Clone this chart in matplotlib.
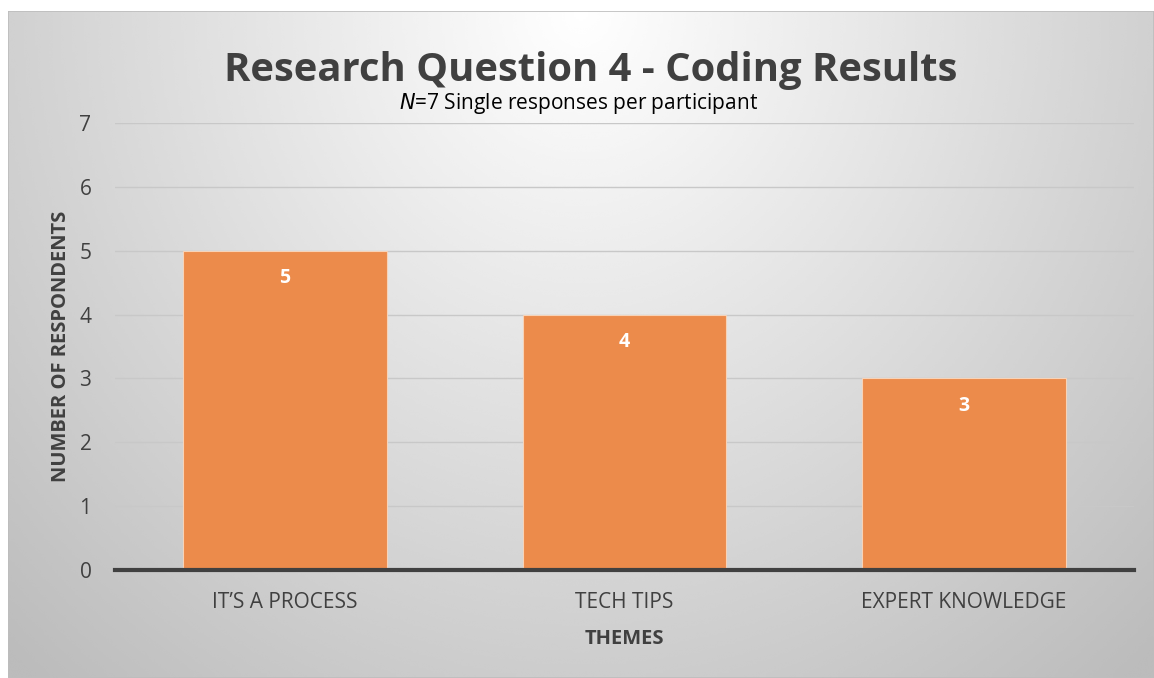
import numpy as np
import matplotlib.pyplot as plt
from matplotlib.patches import Rectangle

themes = ["IT\u2019S A PROCESS", "TECH TIPS", "EXPERT KNOWLEDGE"]
counts = [5, 4, 3]
yticks = [0, 1, 2, 3, 4, 5, 6, 7]

plt.rcParams['font.family'] = ['Open Sans', 'DejaVu Sans']
txt = '#404040'

fig = plt.figure(figsize=(11.54, 6.78), dpi=100)

# radial gradient background panel
bg = fig.add_axes([8 / 1154, 0, 1146 / 1154, 667 / 678])
gx, gy = np.meshgrid(np.linspace(-1, 1, 400), np.linspace(0, 1.3, 300))
r = np.sqrt((gx * 0.9) ** 2 + (gy * 0.75) ** 2)
shade = 1.0 - 0.24 * np.clip(r, 0, 1.3) / 1.3 * 1.1
bg.imshow(shade, cmap='gray', vmin=0, vmax=1, aspect='auto', extent=[0, 1, 0, 1],
          origin='upper', interpolation='bicubic')
bg.add_patch(Rectangle((0, 0), 1, 1, fill=False, ec='#bdbdbd', lw=1.2, transform=bg.transAxes))
bg.set_axis_off()

ax = fig.add_axes([115 / 1154, 108 / 678, 1019 / 1154, 447 / 678])
ax.patch.set_alpha(0)
x = np.arange(len(themes))
bars = ax.bar(x, counts, width=0.6, color='#EC8B4B', edgecolor='#f7d3b8', lw=0.8, zorder=3)
for b, v in zip(bars, counts):
    ax.text(b.get_x() + b.get_width() / 2, v - 0.43, str(v), ha='center', va='center',
            color='white', fontsize=14, fontweight='bold', zorder=4)

ax.set_xlim(-0.5, 2.5)
ax.set_ylim(0, 7)
ax.set_yticks(yticks)
ax.set_xticks(x)
ax.set_xticklabels(themes, fontsize=15, color=txt)
ax.tick_params(axis='y', labelsize=15, labelcolor=txt, length=0, pad=17)
ax.tick_params(axis='x', length=0, pad=16)
ax.yaxis.grid(True, color='#c8c8c8', lw=1, zorder=0)
for s in ['top', 'right', 'left']:
    ax.spines[s].set_visible(False)
ax.spines['bottom'].set_color('#404040')
ax.spines['bottom'].set_linewidth(3)
ax.spines['bottom'].set_zorder(5)

ax.set_xlabel('THEMES', fontsize=14.5, fontweight='bold', color=txt, labelpad=11)
ax.set_ylabel('NUMBER OF RESPONDENTS', fontsize=14.5, fontweight='bold', color=txt, labelpad=6)

fig.text(591 / 1154, 1 - 71 / 678, 'Research Question 4 - Coding Results', ha='center', va='center',
         fontsize=28.8, fontweight='bold', color=txt)
fig.text(579 / 1154, 1 - 104 / 678, '$\\mathit{N}$=7 Single responses per participant', ha='center',
         va='center', fontsize=15, color='black')

fig.savefig('out.png', dpi=100)
